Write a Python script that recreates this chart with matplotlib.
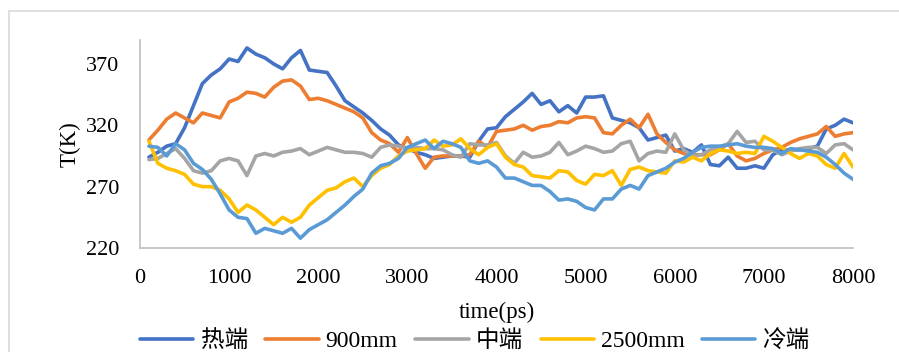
import numpy as np
import matplotlib.pyplot as plt
from matplotlib.patches import Rectangle

plt.rcParams['font.family'] = ['Liberation Serif', 'Noto Sans CJK SC', 'DejaVu Sans']

# time axis (ps)
tempo = list(range(100, 8001, 100))

quente = [294, 298, 303, 305, 318, 336, 354, 361, 366, 374,
          372, 383, 378, 375, 370, 366, 375, 381, 365, 364,
          363, 352, 340, 335, 330, 324, 317, 312, 304, 301,
          298, 296, 293, 294, 295, 295, 294, 307, 317, 318,
          327, 333, 339, 346, 337, 340, 331, 336, 330, 343,
          343, 344, 326, 324, 322, 318, 308, 310, 312, 299,
          301, 298, 304, 288, 287, 294, 285, 285, 287, 285,
          296, 300, 300, 300, 301, 303, 317, 320, 325, 322]

mm900 = [308, 316, 325, 330, 326, 322, 330, 328, 326, 339,
         342, 347, 346, 343, 351, 356, 357, 352, 341, 342,
         340, 337, 334, 331, 326, 314, 308, 305, 298, 310,
         297, 285, 294, 295, 295, 295, 296, 307, 302, 315,
         316, 317, 320, 316, 319, 320, 323, 322, 326, 327,
         326, 314, 313, 320, 325, 318, 329, 313, 306, 300,
         297, 296, 296, 296, 300, 305, 295, 291, 293, 297,
         300, 302, 306, 309, 311, 313, 319, 311, 313, 314]

meio = [292, 293, 297, 301, 293, 283, 281, 283, 291, 293,
        291, 279, 295, 297, 295, 298, 299, 301, 296, 299,
        302, 300, 298, 298, 297, 294, 302, 304, 303, 301,
        302, 301, 301, 300, 296, 294, 305, 304, 304, 306,
        295, 289, 298, 294, 295, 298, 306, 296, 299, 303,
        301, 298, 299, 305, 307, 291, 297, 299, 298, 313,
        300, 295, 296, 300, 302, 305, 315, 306, 307, 300,
        300, 296, 299, 301, 302, 302, 297, 304, 305, 300]

mm2500 = [307, 289, 285, 283, 280, 272, 270, 270, 267, 260,
          249, 255, 251, 245, 239, 245, 241, 245, 255, 261,
          267, 269, 274, 277, 270, 279, 285, 288, 295, 299,
          300, 301, 308, 303, 304, 309, 301, 296, 302, 305,
          294, 288, 286, 279, 278, 277, 283, 282, 275, 272,
          280, 279, 283, 271, 284, 286, 283, 282, 281, 291,
          290, 294, 291, 297, 300, 299, 297, 298, 297, 311,
          307, 302, 297, 293, 297, 295, 288, 285, 297, 286]

frio = [303, 302, 295, 305, 300, 289, 284, 276, 264, 251,
        245, 244, 232, 236, 234, 232, 236, 228, 235, 239,
        243, 249, 255, 262, 268, 281, 287, 289, 293, 302,
        305, 308, 301, 307, 305, 302, 291, 289, 291, 286,
        277, 277, 274, 271, 271, 266, 259, 260, 258, 253,
        251, 260, 260, 268, 271, 268, 279, 282, 285, 290,
        293, 298, 302, 303, 303, 304, 305, 303, 302, 302,
        301, 297, 301, 300, 299, 298, 294, 288, 281, 276]

nomes = ['热端', '900mm', '中端', '2500mm', '冷端']
cores = ['#4472C4', '#ED7D31', '#A5A5A5', '#FFC000', '#5B9BD5']

fig = plt.figure(figsize=(8.99, 3.52), dpi=100)

# moldura do grafico (cortada na direita e embaixo)
fig.patches.append(Rectangle((9 / 899, -0.1), 1.0, 1.1 - 11 / 352, transform=fig.transFigure,
                             fill=False, edgecolor='#D9D9D9', linewidth=1.2))

ax = fig.add_axes([140 / 899, 1 - 248 / 352, 713 / 899, 208 / 352])

for serie, nome, cor in zip([quente, mm900, meio, mm2500, frio], nomes, cores):
    ax.plot(tempo, serie, color=cor, linewidth=2.6, label=nome,
            solid_joinstyle='round', solid_capstyle='round')

ax.set_xlim(0, 8000)
ax.set_ylim(220, 389.5)
ax.set_xticks(range(0, 8001, 1000))
ax.set_yticks([220, 270, 320, 370])
ax.tick_params(length=0, labelsize=16)
ax.tick_params(axis='y', pad=15)
ax.tick_params(axis='x', pad=15)
for lado in ['top', 'right']:
    ax.spines[lado].set_visible(False)
for lado in ['left', 'bottom']:
    ax.spines[lado].set_color('#BFBFBF')
    ax.spines[lado].set_linewidth(1.2)

ax.set_xlabel('time(ps)', fontsize=16.5, labelpad=10)
ax.set_ylabel('T(K)', fontsize=16.5, labelpad=4)

fig.legend(loc='center', bbox_to_anchor=(475 / 899, 1 - 341 / 352), ncol=5,
           frameon=False, fontsize=17, handlelength=2.25, handletextpad=0.3,
           columnspacing=0.75, borderaxespad=0)

fig.savefig('out.png', dpi=100)
